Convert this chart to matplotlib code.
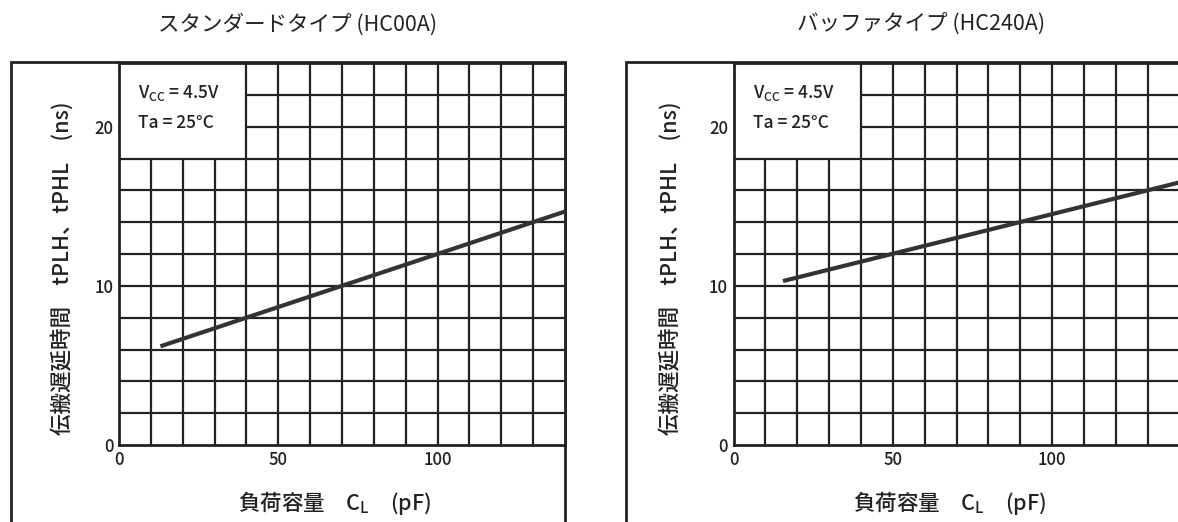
import numpy as np
import matplotlib
matplotlib.use("Agg")
import matplotlib.pyplot as plt
from matplotlib.patches import Rectangle

plt.rcParams['font.family'] = ['Noto Sans CJK JP', 'DejaVu Sans']

# data (load capacitance pF -> delay ns)
std_cl = [13, 140]
std_tpd = [6.2, 14.67]
buf_cl = [15.5, 140]
buf_tpd = [10.3, 16.5]

titles = ['スタンダードタイプ (HC00A)', 'バッファタイプ (HC240A)']
ylabel = '伝搬遅延時間　tPLH、tPHL　(ns)'
xlabel = '負荷容量　C$_\\mathregular{L}$　(pF)'
cond_vcc = 'V$_\\mathregular{CC}$ = 4.5V'
cond_ta = 'Ta = 25°C'

x_grid = np.arange(0, 141, 10)
y_grid = np.arange(0, 25, 2)
x_ticks = [0, 50, 100]
y_ticks = [0, 10, 20]

ink = '#222222'
W, H = 1178, 522
fig = plt.figure(figsize=(W / 100, H / 100), dpi=100)
fig.patch.set_facecolor('white')

def px(x, y):
    return x / W, 1 - y / H

def panel(left_px, frame_px, title_x, ylab_x, xlab_x, cl, tpd, title):
    x0, y0 = px(left_px, 445)
    x1, y1 = px(left_px + 140 * 3.186, 63)
    ax = fig.add_axes([x0, y0, x1 - x0, y1 - y0])
    ax.set_xlim(0, 140)
    ax.set_ylim(0, 24)
    # grid, with the condition box kept clear (x<40, y>18)
    for g in y_grid[1:-1]:
        xs = 40 if g > 18 else 0
        ax.hlines(g, xs, 140, color=ink, lw=1.6, zorder=1)
    for g in x_grid[1:-1]:
        ytop = 18 if g < 40 else 24
        ax.vlines(g, 0, ytop, color=ink, lw=1.6, zorder=1)
    ax.plot(cl, tpd, color='#333333', lw=3, solid_capstyle='butt', zorder=3)
    for s in ax.spines.values():
        s.set_linewidth(2)
        s.set_color(ink)
    ax.set_xticks(x_ticks)
    ax.set_yticks(y_ticks)
    ax.tick_params(length=0, labelsize=12, colors=ink, pad=4)
    for lab in ax.get_xticklabels() + ax.get_yticklabels():
        lab.set_fontweight('medium')
    ax.text(6, 22.1, cond_vcc, fontsize=12.5, color=ink, va='center', fontweight='medium')
    ax.text(6, 20.2, cond_ta, fontsize=12.5, color=ink, va='center', fontweight='medium')
    # outer frame
    fx, fy = px(frame_px, 62)
    fig.add_artist(Rectangle((fx, -0.1), x1 - fx, fy + 0.1, transform=fig.transFigure,
                             fill=False, lw=2, ec=ink, zorder=0))
    tx, ty = px(title_x, 25)
    fig.text(tx, ty, title, fontsize=15.5, ha='center', va='center', color=ink)
    lx, ly = px(ylab_x, 268)
    fig.text(lx, ly, ylabel, fontsize=15.5, rotation=90, ha='center', va='center',
             color=ink, fontweight='medium')
    bx, by = px(xlab_x, 503)
    fig.text(bx, by, xlabel, fontsize=15.5, ha='center', va='center', color=ink,
             fontweight='medium')
    return ax

panel(119, 10.5, 298, 62, 335, std_cl, std_tpd, titles[0])
panel(733.6, 626, 921, 670, 950, buf_cl, buf_tpd, titles[1])

fig.savefig('out.png', dpi=100)
